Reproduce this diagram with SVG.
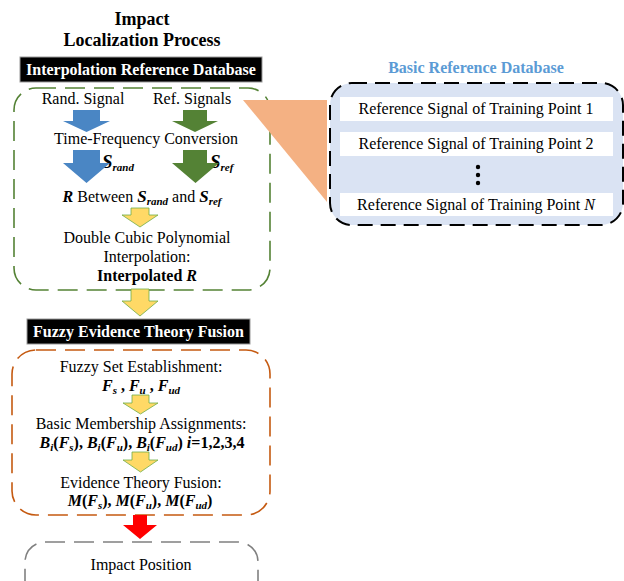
<svg xmlns="http://www.w3.org/2000/svg" width="624" height="581" viewBox="0 0 624 581">
<style>
text{font-family:"Liberation Serif","Times New Roman",serif;font-size:16px;fill:#000;text-anchor:middle}
.ttl{font-size:18px;font-weight:bold}
.hdr{font-weight:bold;fill:#fff}
.b{font-weight:bold}
.bi{font-weight:bold;font-style:italic}
.bis{font-weight:bold;font-style:italic;font-size:11px}
.row{fill:#fff}
.yel{fill:#FFD966;stroke:#70AD47;stroke-width:0.8}
.blu{fill:#4A86C4}
.grn{fill:#548235}
</style>
<rect width="624" height="581" fill="#fff"/>

<g id="title">
<text class="ttl" x="142" y="25">Impact</text>
<text class="ttl" x="142" y="46">Localization Process</text>
</g>

<g id="interp-db">
<rect x="14" y="88" width="256" height="202" rx="22" fill="none" stroke="#548235" stroke-width="1.6" stroke-dasharray="20 9"/>
<rect x="20" y="57" width="242" height="25" fill="#000" stroke="#999" stroke-width="1"/>
<text class="hdr" x="141" y="75">Interpolation Reference Database</text>
<text x="83" y="104">Rand. Signal</text>
<text x="192" y="104">Ref. Signals</text>
<text x="146" y="144">Time-Frequency Conversion</text>
<text x="102" y="168" style="text-anchor:start"><tspan class="bi" font-size="19">S</tspan><tspan class="bis" font-size="12" dy="3">rand</tspan></text>
<text x="210" y="168" style="text-anchor:start"><tspan class="bi" font-size="19">S</tspan><tspan class="bis" font-size="12" dy="3">ref</tspan></text>
<text x="142" y="202"><tspan class="bi">R</tspan> Between <tspan class="bi" font-size="17">S</tspan><tspan class="bis" dy="3">rand</tspan><tspan dy="-3"> and </tspan><tspan class="bi" font-size="17">S</tspan><tspan class="bis" dy="3">ref</tspan></text>
<text x="147" y="243">Double Cubic Polynomial</text>
<text x="147" y="262">Interpolation:</text>
<text x="147" y="281" class="b">Interpolated <tspan class="bi">R</tspan></text>
</g>

<g id="orange-callout">
<polygon points="243,100 327,100 327,202" fill="#F4B183"/>
</g>

<g id="basic-db">
<text class="b" x="476" y="73" style="fill:#5B9BD5">Basic Reference Database</text>
<rect x="330" y="83" width="293" height="142" rx="22" fill="#DAE3F3" stroke="#000" stroke-width="2" stroke-dasharray="15 8"/>
<rect class="row" x="340" y="97" width="273" height="24"/>
<rect class="row" x="340" y="132" width="273" height="24"/>
<rect class="row" x="340" y="193" width="273" height="23"/>
<text x="476" y="114">Reference Signal of Training Point 1</text>
<text x="476" y="149">Reference Signal of Training Point 2</text>
<text x="476" y="210">Reference Signal of Training Point <tspan font-style="italic">N</tspan></text>
<circle cx="478" cy="167" r="2.2" fill="#000"/>
<circle cx="478" cy="175" r="2.2" fill="#000"/>
<circle cx="478" cy="183" r="2.2" fill="#000"/>
</g>

<g id="fuzzy">
<rect x="12" y="350" width="258" height="165" rx="24" fill="none" stroke="#C55A11" stroke-width="1.6" stroke-dasharray="20 9"/>
<rect x="27" y="319" width="223" height="25" fill="#000" stroke="#999" stroke-width="1"/>
<text class="hdr" x="138.5" y="337">Fuzzy Evidence Theory Fusion</text>
<text x="141" y="372">Fuzzy Set Establishment:</text>
<text x="141" y="391"><tspan class="bi">F</tspan><tspan class="bis" dy="3">s</tspan><tspan class="b" dy="-3"> , </tspan><tspan class="bi">F</tspan><tspan class="bis" dy="3">u</tspan><tspan class="b" dy="-3"> , </tspan><tspan class="bi">F</tspan><tspan class="bis" dy="3">ud</tspan></text>
<text x="141" y="429">Basic Membership Assignments:</text>
<text x="142" y="448" class="b"><tspan class="bi">B</tspan><tspan class="bis" dy="3">i</tspan><tspan dy="-3">(</tspan><tspan class="bi">F</tspan><tspan class="bis" dy="3">s</tspan><tspan dy="-3">), </tspan><tspan class="bi">B</tspan><tspan class="bis" dy="3">i</tspan><tspan dy="-3">(</tspan><tspan class="bi">F</tspan><tspan class="bis" dy="3">u</tspan><tspan dy="-3">), </tspan><tspan class="bi">B</tspan><tspan class="bis" dy="3">i</tspan><tspan dy="-3">(</tspan><tspan class="bi">F</tspan><tspan class="bis" dy="3">ud</tspan><tspan dy="-3">) </tspan><tspan class="bi">i</tspan>=1,2,3,4</text>
<text x="141" y="488">Evidence Theory Fusion:</text>
<text x="140" y="506" class="b"><tspan class="bi">M</tspan>(<tspan class="bi">F</tspan><tspan class="bis" dy="3">s</tspan><tspan dy="-3">), </tspan><tspan class="bi">M</tspan>(<tspan class="bi">F</tspan><tspan class="bis" dy="3">u</tspan><tspan dy="-3">), </tspan><tspan class="bi">M</tspan>(<tspan class="bi">F</tspan><tspan class="bis" dy="3">ud</tspan><tspan dy="-3">)</tspan></text>
</g>

<g id="impact-position">
<rect x="25" y="542" width="233" height="60" rx="20" fill="#fff" stroke="#808080" stroke-width="1.6" stroke-dasharray="20 9"/>
<text x="141" y="570">Impact Position</text>
</g>

<g id="connectors">
<polygon class="blu" points="73,110 100,110 100,121 110,121 86.5,132 63,121 73,121"/>
<polygon class="grn" points="183,110 207,110 207,121 218,121 195,132 172,121 183,121"/>
<polygon class="blu" points="73,150 100,150 100,163 110,163 86.5,183 63,163 73,163"/>
<polygon class="grn" points="183,150 207,150 207,163 219,163 195.5,183 172,163 183,163"/>
<polygon class="yel" points="131,208 149,208 149,215 158,215 140,227 122,215 131,215"/>
<polygon class="yel" points="131,289 149,289 149,301 158,301 140,316 122,301 131,301"/>
<polygon class="yel" points="132,395 149,395 149,403 158,403 140.5,414 123,403 132,403"/>
<polygon class="yel" points="132,452 149,452 149,460 158,460 140.5,472 123,460 132,460"/>
<polygon points="133,515 147,515 147,525 157,525 140,539 123,525 133,525" fill="#FF0000"/>
</g>
</svg>
